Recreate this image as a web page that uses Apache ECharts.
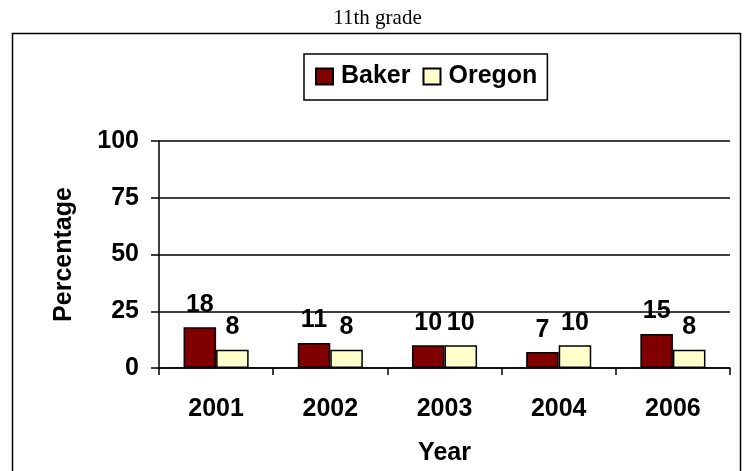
<!DOCTYPE html>
<html lang="en">
<head>
    <meta charset="UTF-8">
    <title>11th grade</title>
    <script src="https://cdn.jsdelivr.net/npm/echarts@6/dist/echarts.min.js"></script>
    <style>
        html, body { margin: 0; padding: 0; background: #fff; }
    </style>
</head>
<body>
<div id="chart" style="width: 755px;height: 471px"></div>
<script type="text/javascript">
    // data
    var years = ['2001', '2002', '2003', '2004', '2006'];
    var bakerValues = [18, 11, 10, 7, 15];
    var oregonValues = [8, 8, 10, 10, 8];

    var chart = echarts.init(document.getElementById('chart'));

    var boldText = {
        fontFamily: 'Arial, "Liberation Sans", sans-serif',
        fontWeight: 'bold',
        fontSize: 25,
        color: '#000'
    };

    function barLabel() {
        return Object.assign({show: true, position: 'top', distance: 10}, boldText);
    }

    var options = {
        animation: false,
        title: {
            text: '11th grade',
            left: 'center',
            top: 3,
            textStyle: {
                fontFamily: '"Liberation Serif", "Times New Roman", serif',
                fontWeight: 'normal',
                fontSize: 21,
                color: '#000'
            }
        },
        // outer frame around the chart area
        graphic: [{
            type: 'rect',
            shape: {x: 12.5, y: 33.5, width: 728, height: 440},
            style: {fill: null, stroke: '#000', lineWidth: 1.5},
            silent: true
        }],
        legend: {
            data: ['Baker', 'Oregon'],
            icon: 'rect',
            left: 304,
            top: 54,
            itemWidth: 17,
            itemHeight: 16,
            itemGap: 12,
            padding: [10, 10, 11, 11],
            borderColor: '#000',
            borderWidth: 1.5,
            textStyle: Object.assign({padding: [0, 0, 0, 3]}, boldText)
        },
        grid: {
            left: 159,
            right: 25,
            top: 141,
            bottom: 103
        },
        xAxis: {
            type: 'category',
            data: years,
            name: 'Year',
            nameLocation: 'middle',
            nameGap: 73,
            nameTextStyle: Object.assign({}, boldText, {letterSpacing: 3}),
            axisLine: {lineStyle: {color: '#000', width: 1.5}},
            axisTick: {show: true, length: 7, lineStyle: {color: '#000', width: 1.5}},
            axisLabel: Object.assign({margin: 29}, boldText)
        },
        yAxis: {
            type: 'value',
            min: 0,
            max: 100,
            interval: 25,
            name: 'Percentage',
            nameLocation: 'middle',
            nameGap: 82,
            nameRotate: 90,
            nameTextStyle: Object.assign({}, boldText, {letterSpacing: 1.5}),
            axisLine: {show: true, lineStyle: {color: '#000', width: 1.5}},
            axisTick: {show: true, length: 8, lineStyle: {color: '#000', width: 1.5}},
            axisLabel: Object.assign({margin: 20}, boldText, {letterSpacing: 1}),
            splitLine: {lineStyle: {color: '#000', width: 1.5}}
        },
        series: [
            {
                name: 'Baker',
                type: 'bar',
                data: bakerValues,
                barGap: '0%',
                barCategoryGap: '43%',
                itemStyle: {color: '#800000', borderColor: '#000', borderWidth: 1.5},
                label: barLabel()
            },
            {
                name: 'Oregon',
                type: 'bar',
                data: oregonValues,
                itemStyle: {color: '#ffffcc', borderColor: '#000', borderWidth: 1.5},
                label: barLabel()
            }
        ]
    };
    chart.setOption(options);
</script>
</body>
</html>
